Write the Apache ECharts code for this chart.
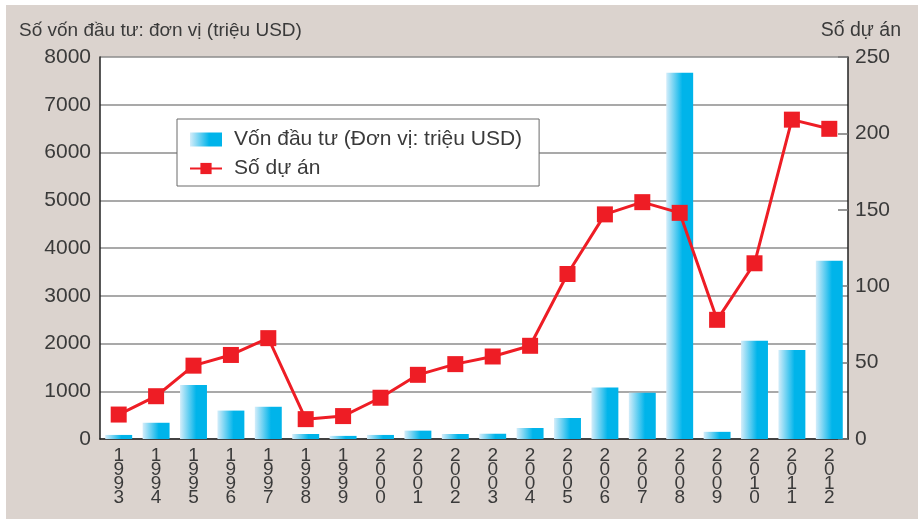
<!DOCTYPE html>
<html>
<head>
<meta charset="utf-8">
<script src="https://cdn.jsdelivr.net/npm/echarts@6/dist/echarts.min.js"></script>
<style>
html,body{margin:0;padding:0;background:#ffffff;}
#chart{width:918px;height:519px;}
</style>
</head>
<body>
<div id="chart"></div>
<script>
var years = ['1993','1994','1995','1996','1997','1998','1999','2000','2001','2002','2003','2004','2005','2006','2007','2008','2009','2010','2011','2012'];
var vonDauTu = [85, 340, 1130, 595, 675, 105, 65, 85, 175, 105, 110, 230, 440, 1080, 970, 7670, 150, 2060, 1865, 3735];
var soDuAn = [16, 28, 48, 55, 66, 13, 15, 27, 42, 49, 54, 61, 108, 147, 155, 148, 78, 115, 209, 203];
var leftTicks = [0, 8000, 1000];
var rightTicks = [0, 250, 50];
var nameBar = 'Vốn đầu tư (Đơn vị: triệu USD)';
var nameLine = 'Số dự án';
var titleLeft = 'Số vốn đầu tư: đơn vị (triệu USD)';
var titleRight = 'Số dự án';

var FONT = '"Liberation Sans", Arial, Helvetica, sans-serif';
var txt = '#3a3a3a';
var barGrad = new echarts.graphic.LinearGradient(0, 0, 1, 0, [
  {offset: 0, color: '#d4edfa'},
  {offset: 0.6, color: '#00b4ea'},
  {offset: 1, color: '#00b4ea'}
]);

var chart = echarts.init(document.getElementById('chart'), null, {renderer: 'canvas'});
chart.setOption({
  backgroundColor: '#ffffff',
  animation: false,
  textStyle: {fontFamily: FONT},
  graphic: [{
    type: 'rect', left: 6, top: 5, z: -10,
    shape: {width: 912, height: 514},
    style: {fill: '#dbd3ce'}
  }],
  title: [
    {text: titleLeft, left: 14, top: 16, textStyle: {fontFamily: FONT, fontSize: 19, fontWeight: 'normal', color: txt}},
    {text: titleRight, right: 12, top: 16, textStyle: {fontFamily: FONT, fontSize: 19.5, fontWeight: 'normal', color: txt}}
  ],
  legend: {
    orient: 'vertical',
    left: 177, top: 119,
    backgroundColor: '#ffffff',
    borderColor: '#6a6a6a', borderWidth: 1,
    padding: [10, 17, 7, 12],
    itemWidth: 32, itemHeight: 14, itemGap: 8,
    textStyle: {fontFamily: FONT, fontSize: 21, color: txt, lineHeight: 16, padding: [0, 0, 0, 7]},
    data: [{name: nameBar, icon: 'rect'}, {name: nameLine}]
  },
  grid: {left: 100, right: 70, top: 57, bottom: 80, show: true, backgroundColor: '#ffffff', borderWidth: 0},
  xAxis: {
    type: 'category', data: years,
    axisLine: {lineStyle: {color: '#222', width: 1.5}},
    axisTick: {show: false},
    axisLabel: {
      interval: 0, margin: 10, color: txt, fontFamily: FONT, fontSize: 19, lineHeight: 14,
      formatter: function (v) { return v.split('').join('\n'); }
    }
  },
  yAxis: [{
    type: 'value', min: leftTicks[0], max: leftTicks[1], interval: leftTicks[2],
    axisLine: {show: true, lineStyle: {color: '#222', width: 1.5}},
    axisTick: {show: false},
    splitLine: {lineStyle: {color: '#8c8c8c', width: 1.5}},
    axisLabel: {margin: 9, color: txt, fontFamily: FONT, fontSize: 21, formatter: function (v) { return String(v); }}
  }, {
    type: 'value', min: rightTicks[0], max: rightTicks[1], interval: rightTicks[2],
    position: 'right',
    axisLine: {show: true, lineStyle: {color: '#222', width: 1.5}},
    axisTick: {show: true, inside: true, length: 10, lineStyle: {color: '#777', width: 1.5}},
    splitLine: {show: false},
    axisLabel: {margin: 7, color: txt, fontFamily: FONT, fontSize: 21, formatter: function (v) { return String(v); }}
  }],
  series: [{
    name: nameBar, type: 'bar', data: vonDauTu, yAxisIndex: 0,
    barCategoryGap: '28%',
    itemStyle: {color: barGrad}
  }, {
    name: nameLine, type: 'line', data: soDuAn, yAxisIndex: 1,
    symbol: 'rect', symbolSize: 16,
    itemStyle: {color: '#ee1d25'},
    lineStyle: {color: '#ee1d25', width: 3},
    z: 5
  }]
});
</script>
</body>
</html>
